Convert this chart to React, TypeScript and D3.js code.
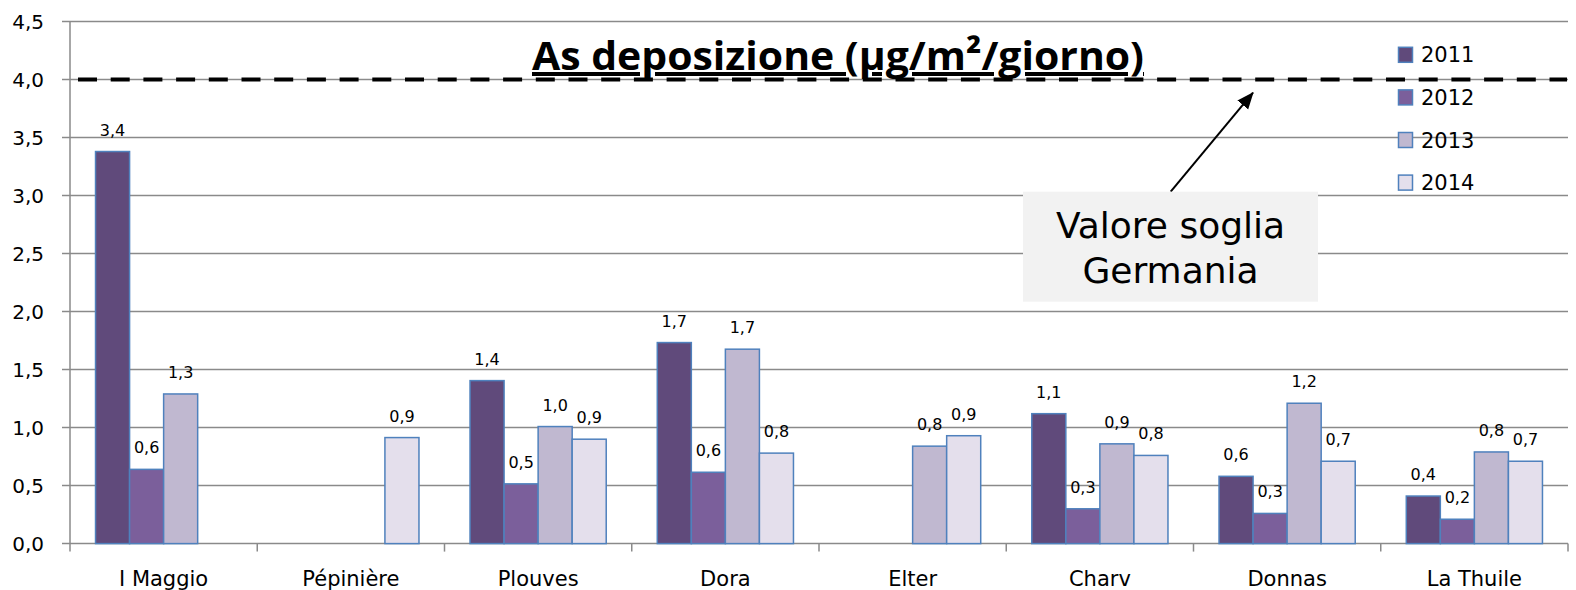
import React from "react";
import * as d3 from "d3";

// stations (x categories)
const stations = ["I Maggio", "Pépinière", "Plouves", "Dora", "Elter", "Charv", "Donnas", "La Thuile"];
const years = ["2011", "2012", "2013", "2014"];

// As deposition, µg/m²/giorno (null = no measure)
const v2011 = [3.38, null, 1.405, 1.733, null, 1.12, 0.58, 0.41];
const v2012 = [0.64, null, 0.515, 0.615, null, 0.3, 0.26, 0.21];
const v2013 = [1.29, null, 1.009, 1.676, 0.84, 0.86, 1.21, 0.79];
const v2014 = [null, 0.914, 0.9, 0.78, 0.93, 0.76, 0.71, 0.71];

const yTicks = [0, 0.5, 1, 1.5, 2, 2.5, 3, 3.5, 4, 4.5];
const threshold = 4.0;
const titleText = "As deposizione (µg/m²/giorno)";
const noteLines = ["Valore soglia", "Germania"];

const colors: Record<string, string> = {
  "2011": "#604A7B",
  "2012": "#7B5F9B",
  "2013": "#C0B8D0",
  "2014": "#E4DFEC",
};

const W = 1576;
const H = 590;
const FONT = "'DejaVu Sans', sans-serif";

export default function App() {
  const series = [v2011, v2012, v2013, v2014];
  const fmt = (v: number) => v.toFixed(1).replace(".", ",");

  const x = d3.scaleBand<string>().domain(stations).range([70, 1568]).padding(0);
  const xi = d3.scaleBand<string>().domain(years).range([0, x.bandwidth()]).paddingInner(0).paddingOuter(0.75);
  const y = d3.scaleLinear().domain([0, 4.5]).range([543.6, 21.6]);

  const left = 70;
  const right = 1568;

  return (
    <svg width={W} height={H} style={{ position: "absolute", left: 0, top: 0, background: "#fff" }}>
      <defs>
        <marker id="arr" markerUnits="userSpaceOnUse" markerWidth="18" markerHeight="16" refX="16" refY="7" orient="auto">
          <path d="M0,0 L17,7 L0,14 Z" fill="#000" />
        </marker>
      </defs>

      {/* gridlines + y ticks */}
      {yTicks.map((t) => (
        <g key={t}>
          <line x1={62} x2={right} y1={y(t)} y2={y(t)} stroke="#8A8A8A" strokeWidth={1.5} />
          <text x={44} y={y(t) + 7} textAnchor="end" fontFamily={FONT} fontSize={20} fill="#000">
            {fmt(t)}
          </text>
        </g>
      ))}

      {/* y axis line */}
      <line x1={left} x2={left} y1={y(4.5)} y2={y(0)} stroke="#8A8A8A" strokeWidth={1.5} />

      {/* category ticks */}
      {[...stations.map((s) => x(s) as number), right].map((px, i) => (
        <line key={i} x1={px} x2={px} y1={y(0)} y2={y(0) + 8} stroke="#8A8A8A" strokeWidth={1.5} />
      ))}

      {/* bars */}
      {years.map((yr, si) =>
        stations.map((st, ci) => {
          const v = series[si][ci];
          if (v == null) return null;
          const bx = (x(st) as number) + (xi(yr) as number);
          return (
            <g key={yr + st}>
              <rect
                x={bx}
                y={y(v)}
                width={xi.bandwidth()}
                height={y(0) - y(v)}
                fill={colors[yr]}
                stroke="#4F81BD"
                strokeWidth={1.5}
              />
              <text
                x={bx + xi.bandwidth() / 2}
                y={y(v) - 16}
                textAnchor="middle"
                fontFamily={FONT}
                fontSize={16}
                fill="#000"
              >
                {fmt(v)}
              </text>
            </g>
          );
        })
      )}

      {/* category labels */}
      {stations.map((st) => (
        <text
          key={st}
          x={(x(st) as number) + x.bandwidth() / 2}
          y={585.5}
          textAnchor="middle"
          fontFamily={FONT}
          fontSize={21}
          fill="#000"
        >
          {st}
        </text>
      ))}

      {/* threshold line */}
      <line
        x1={78}
        x2={1567}
        y1={y(threshold)}
        y2={y(threshold)}
        stroke="#000"
        strokeWidth={4}
        strokeDasharray="19,13.7"
      />

      {/* title */}
      <text
        x={838}
        y={70}
        textAnchor="middle"
        fontFamily="'Open Sans', sans-serif"
        fontWeight="bold"
        fontSize={40}
        textLength={612}
        lengthAdjust="spacingAndGlyphs"
        textDecoration="underline"
        fill="#000"
      >
        {titleText}
      </text>

      {/* legend */}
      {years.map((yr, i) => {
        const cy = 54.8 + i * 42.6;
        return (
          <g key={yr}>
            <rect x={1398.5} y={cy - 7.5} width={14} height={15} fill={colors[yr]} stroke="#4F81BD" strokeWidth={1.5} />
            <text x={1421} y={cy + 7.5} fontFamily={FONT} fontSize={21} fill="#000">
              {yr}
            </text>
          </g>
        );
      })}

      {/* annotation */}
      <line x1={1170.7} y1={191.7} x2={1253} y2={92.7} stroke="#000" strokeWidth={2} markerEnd="url(#arr)" />
      <rect x={1023} y={191.7} width={295} height={110} fill="#F2F2F2" />
      {noteLines.map((ln, i) => (
        <text key={ln} x={1170.5} y={238.3 + i * 45} textAnchor="middle" fontFamily={FONT} fontSize={36} fill="#000">
          {ln}
        </text>
      ))}
    </svg>
  );
}
